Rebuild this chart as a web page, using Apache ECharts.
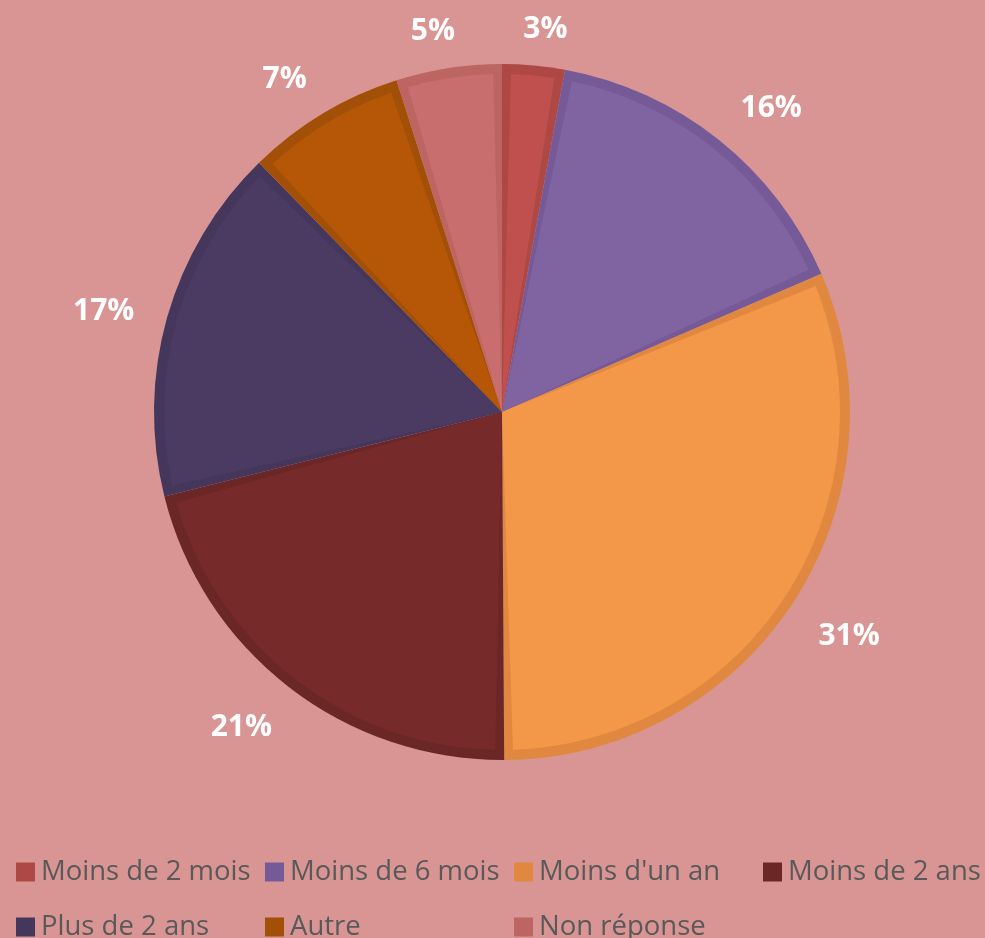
<!DOCTYPE html>
<html>
<head>
<meta charset="utf-8">
<script src="https://cdn.jsdelivr.net/npm/echarts@6/dist/echarts.min.js"></script>
<style>
html,body{margin:0;padding:0;background:#D99594;}
#chart{width:985px;height:938px;}
</style>
</head>
<body>
<div id="chart"></div>
<script>
const categories = ['Moins de 2 mois', 'Moins de 6 mois', "Moins d'un an", 'Moins de 2 ans', 'Plus de 2 ans', 'Autre', 'Non réponse'];
const values = [2.9, 15.6, 31.4, 21.2, 16.6, 7.4, 4.9];
const fillColors = ['#C0504D', '#8064A2', '#F39848', '#772A2A', '#4B3A62', '#B65708', '#C86E6E'];
const borderColors = ['#AD4845', '#765A98', '#E0883F', '#6B2626', '#45365B', '#A24F07', '#BD6563'];
// small angular nudges (degrees) of the outside labels, mimicking the original placement
const labelAngleNudge = [1.2, 2.8, -0.6, 2.0, -1.2, -2.0, -1.4];

const CX = 502, CY = 412, R = 348, LABEL_GAP = 30, LABEL_FONT = 30;
const total = values.reduce((a, b) => a + b, 0);
const cumBefore = values.map((v, i) => values.slice(0, i).reduce((a, b) => a + b, 0));

const chart = echarts.init(document.getElementById('chart'), null, {renderer: 'canvas'});

const legends = categories.map((n, i) => ({
  orient: 'horizontal',
  left: 16 + (i % 4) * 249,
  top: i < 4 ? 858 : 913,
  itemWidth: 19,
  itemHeight: 19,
  itemGap: 0,
  icon: 'rect',
  selectedMode: false,
  padding: 0,
  textStyle: {fontFamily: 'Open Sans', fontSize: 27.5, color: '#595959', padding: [0, 0, 0, 1]},
  data: [{name: n, itemStyle: {color: borderColors[i]}}]
}));

chart.setOption({
  backgroundColor: '#D99594',
  animation: false,
  legend: legends,
  series: [
    {
      type: 'pie',
      center: [CX, CY],
      radius: R,
      silent: true,
      label: {show: false},
      labelLine: {show: false},
      data: categories.map((n, i) => ({name: n, value: values[i], itemStyle: {color: borderColors[i]}}))
    },
    {
      type: 'pie',
      center: [CX, CY],
      radius: R - 10,
      padAngle: 3,
      silent: true,
      label: {
        show: true,
        position: 'inside',
        formatter: function (p) { return Math.round(p.value / total * 100 + 1e-9) + '%'; },
        color: '#FFFFFF',
        fontFamily: 'Open Sans',
        fontWeight: 'bold',
        fontSize: LABEL_FONT
      },
      labelLine: {show: false},
      labelLayout: function (params) {
        const i = params.dataIndex;
        const mid = (cumBefore[i] + values[i] / 2) / total * Math.PI * 2 + labelAngleNudge[i] * Math.PI / 180;
        const ux = Math.sin(mid), uy = -Math.cos(mid);
        const w = params.labelRect.width, h = LABEL_FONT * 0.4;
        const d = R + LABEL_GAP + Math.abs(ux) * w / 2 + Math.abs(uy) * h / 2 + 10 * Math.abs(ux * uy);
        return {x: CX + ux * d, y: CY + uy * d + 3, align: 'center', verticalAlign: 'middle'};
      },
      data: categories.map((n, i) => ({name: n, value: values[i], itemStyle: {color: fillColors[i]}}))
    }
  ]
});
</script>
</body>
</html>
